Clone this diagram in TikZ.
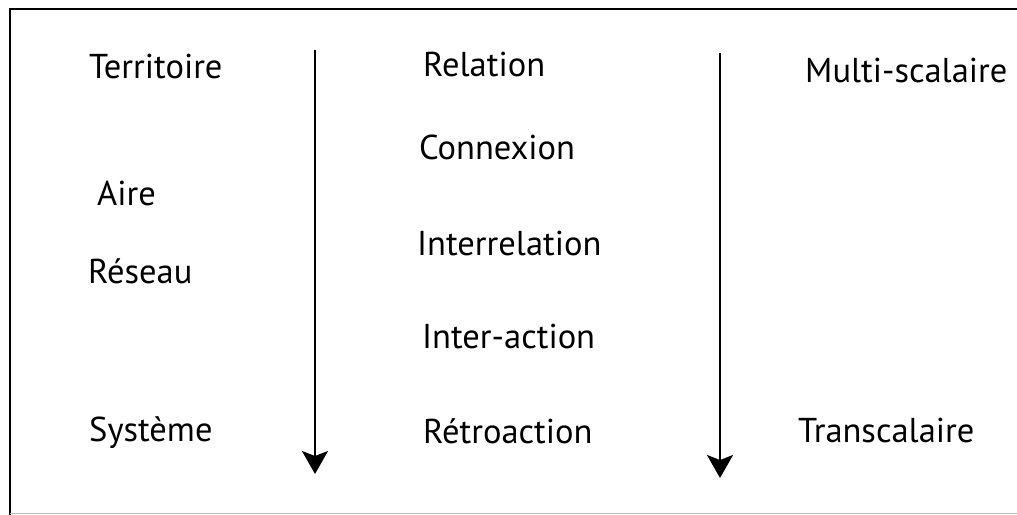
\documentclass[tikz,border=0pt]{standalone}
\usepackage{fontspec}
\setmainfont{PT Sans}
\usetikzlibrary{arrows.meta}
\tikzset{
  word/.style={anchor=base west,inner sep=0pt,font=\fontsize{34.5}{38}\selectfont},
  down/.style={line width=2pt,-{Stealth[length=23pt,width=26pt,inset=5pt]}}
}
\begin{document}
\begin{tikzpicture}[x=1pt,y=-1pt]
\useasboundingbox (0,0) rectangle (1017,514);
% frame
\draw[line width=2pt] (1030,9) -- (10,9) -- (10,520);
\draw[line width=1pt,black!25] (10,513) -- (1030,513);
%
\node[word] (terr) at (89,78) {Territoire};
\node[word] (aire) at (97,205) {Aire};
\node[word] (res) at (88,283) {Réseau};
\node[word] (sys) at (89,441) {Système};
%
\node[word] (rel) at (423,76) {Relation};
\node[word] (con) at (419,159) {Connexion};
\node[word] (inter) at (417,255) {Interrelation};
\node[word] (act) at (422,348) {Inter-action};
\node[word] (retro) at (423,443) {Rétroaction};
%
\node[word] (multi) at (805,82) {Multi-scalaire};
\node[word] (trans) at (798,442) {Transcalaire};
%
\coordinate (lefttop) at (315,50);
\coordinate (lefttip) at (315,474);
\coordinate (righttop) at (720,53);
\coordinate (righttip) at (720,478);
\draw[down] (lefttop) -- (lefttip);
\draw[down] (righttop) -- (righttip);
\end{tikzpicture}
\end{document}
